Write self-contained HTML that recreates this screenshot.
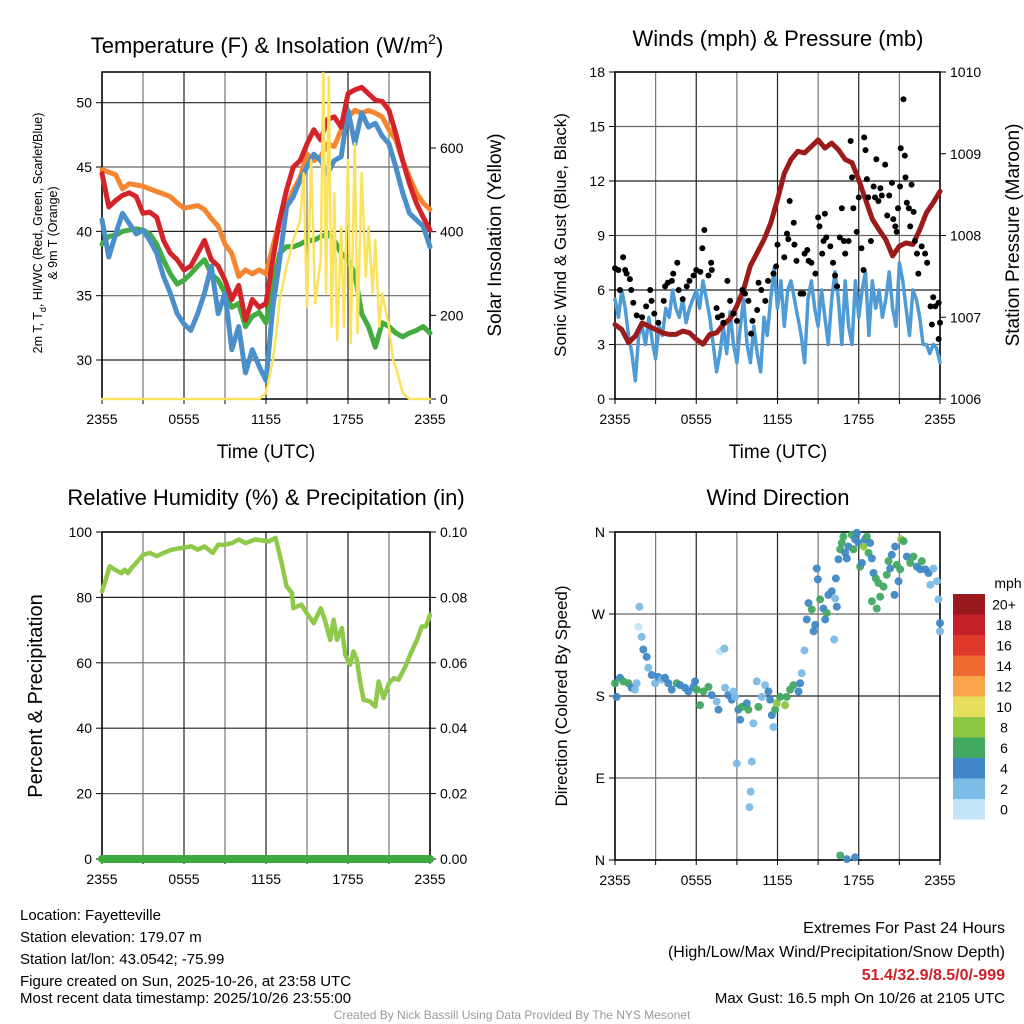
<!DOCTYPE html>
<html><head><meta charset="utf-8"><style>
html,body{margin:0;padding:0;background:#fff;}
svg{display:block;font-family:"Liberation Sans",Arial,sans-serif;}
</style></head><body>
<svg id="fig" width="1024" height="1024" viewBox="0 0 1024 1024" xmlns="http://www.w3.org/2000/svg">
<rect x="0" y="0" width="1024" height="1024" fill="#fff"/>
<text x="267" y="53" font-size="22" text-anchor="middle">Temperature (F) &amp; Insolation (W/m<tspan dy="-9" font-size="14">2</tspan><tspan dy="9">)</tspan></text>
<text x="778" y="46" font-size="22" text-anchor="middle">Winds (mph) &amp; Pressure (mb)</text>
<text x="266" y="505" font-size="22" text-anchor="middle">Relative Humidity (%) &amp; Precipitation (in)</text>
<text x="778" y="505" font-size="22" text-anchor="middle">Wind Direction</text>
<text x="266" y="458" font-size="19" text-anchor="middle">Time (UTC)</text>
<text x="778" y="458" font-size="19" text-anchor="middle">Time (UTC)</text>
<text transform="translate(42,233) rotate(-90)" font-size="12.5" text-anchor="middle">2m T, T<tspan dy="4" font-size="9">d</tspan><tspan dy="-4">, HI/WC (Red, Green, Scarlet/Blue)</tspan></text>
<text transform="translate(57,233) rotate(-90)" font-size="12.5" text-anchor="middle">&amp; 9m T (Orange)</text>
<text transform="translate(501,235) rotate(-90)" font-size="19" text-anchor="middle">Solar Insolation (Yellow)</text>
<text transform="translate(566,235) rotate(-90)" font-size="17" text-anchor="middle">Sonic Wind &amp; Gust (Blue, Black)</text>
<text transform="translate(1019,235) rotate(-90)" font-size="19" text-anchor="middle">Station Pressure (Maroon)</text>
<text transform="translate(42,696) rotate(-90)" font-size="20" text-anchor="middle">Percent &amp; Precipitation</text>
<text transform="translate(567,696) rotate(-90)" font-size="17" text-anchor="middle">Direction (Colored By Speed)</text>
<g font-size="15">
<text x="20" y="920">Location: Fayetteville</text>
<text x="20" y="942">Station elevation: 179.07 m</text>
<text x="20" y="964">Station lat/lon: 43.0542; -75.99</text>
<text x="20" y="986">Figure created on Sun, 2025-10-26, at 23:58 UTC</text>
<text x="20" y="1003">Most recent data timestamp: 2025/10/26 23:55:00</text>
</g>
<g font-size="16" text-anchor="end">
<text x="1005" y="933">Extremes For Past 24 Hours</text>
<text x="1005" y="957">(High/Low/Max Wind/Precipitation/Snow Depth)</text>
<text x="1005" y="980" font-weight="bold" fill="#cc1f27">51.4/32.9/8.5/0/-999</text>
<text x="1005" y="1003" font-size="15">Max Gust: 16.5 mph On 10/26 at 2105 UTC</text>
</g>
<text x="512" y="1019" font-size="12" fill="#999" text-anchor="middle">Created By Nick Bassill Using Data Provided By The NYS Mesonet</text>
<g id="plots"></g>
</svg>
<script>
// ---- data ----
const xTickHours = [0, 6, 12, 18, 24];
const xTickLabels = ["2355", "0555", "1155", "1755", "2355"];
const tempStartHour = 0;
const tempStepHours = 0.5;
const temp9m = [44.8,44.6,44.4,43.3,43.7,43.6,43.5,43.3,43.1,42.9,42.7,42.2,41.8,41.9,42,41.7,41,40.4,39,38.3,36.5,37,36.7,37,36.7,38.8,40.9,41.9,43.2,44.2,46,45.5,45.8,46.8,46.6,47.9,48.9,49.4,49.2,49.4,49.2,48.9,47.9,47.1,45.5,44.2,43,42.2,41.7];
const temp2m = [44.5,41.9,42.4,42.8,43,42.7,41.4,41.5,41.1,39.3,38.3,37.8,37,37.3,38.3,39.3,37.8,37.3,36.2,34.7,35.8,33.1,34.7,34.1,34.4,37.8,40.9,43.2,45,45.5,46.8,47.9,47.1,48.7,48.9,48.1,50.7,51,51.2,50.7,50.2,50.1,49.4,47.6,45.5,43.7,42.2,41.1,40.1];
const dewpoint = [39,39.6,39.7,40,40.1,40.2,40.1,39.8,39,37.8,36.7,35.9,36.2,36.7,37.3,37.8,36.7,36.2,35.2,34.1,34.4,32.6,33.4,33.7,32.9,35.7,38.3,38.8,38.8,39,39.3,39.3,39.6,39.8,39.3,38.3,37.8,36.7,33.6,32.6,31,32.9,32.6,32.1,31.8,32.1,32.3,32.6,32.1];
const windChill = [40.9,38,39.8,41.4,40.6,39.8,40.1,39.3,38.3,36.5,35.2,33.6,32.8,32.3,33.6,35.2,37.3,33.6,35.2,30.8,32.6,29,30.8,29.5,28.4,34.1,37.8,41.9,42.7,44,45,46,45.5,44.5,45.5,45.8,49.4,46.8,49.2,48.1,48.4,47.4,46.8,45,43,41.4,40.9,40.4,38.8];
const solarHours = [0,11.5,12,12.5,12.75,13,13.5,14,14.5,14.75,15,15.3,15.6,16,16.2,16.4,16.6,16.8,17,17.2,17.5,17.7,18,18.2,18.5,18.7,19,19.3,19.5,19.8,20,20.3,20.5,20.8,21,21.3,21.5,22,22.5,24];
const solarWm2 = [0,0,14,93,157,237,316,380,428,540,221,571,229,332,779,253,770,173,492,141,412,173,571,133,611,157,540,292,412,253,380,173,253,205,173,93,77,14,0,0];
const tempTicks = [30,35,40,45,50];
const solarTicks = [0,200,400,600];

const pressureStartHour = 0;
const pressureStepHours = 0.5;
const pressureMb = [1006.91,1006.85,1006.69,1006.77,1006.93,1006.89,1006.85,1006.81,1006.79,1006.79,1006.83,1006.81,1006.73,1006.67,1006.79,1006.81,1006.91,1006.98,1007.14,1007.34,1007.63,1007.79,1007.95,1008.15,1008.44,1008.76,1008.93,1009.03,1009.01,1009.09,1009.17,1009.07,1009.13,1009.05,1008.93,1008.89,1008.68,1008.44,1008.2,1008.07,1007.95,1007.75,1007.87,1007.91,1007.89,1008.07,1008.28,1008.4,1008.54];
const windStartHour = 0;
const windStepHours = 0.25;
const windMph = [5.5,4.5,6.0,5.0,3.5,2.5,1.0,3.5,4.0,3.0,4.5,3.2,2.2,4.0,3.5,5.0,4.5,6.0,5.0,4.5,5.5,4.2,5.0,5.5,6.0,5.0,6.5,5.5,4.5,3.0,1.5,2.5,4.0,2.5,4.8,3.0,2.0,4.0,5.5,3.0,2.0,4.0,2.5,1.5,4.5,3.5,5.5,7.2,5.0,6.5,4.0,6.0,6.5,5.5,4.5,3.5,2.0,5.5,6.5,5.0,4.0,6.0,4.5,3.0,5.5,7.0,5.5,3.0,6.5,4.0,3.0,6.5,4.5,6.0,7.0,3.5,6.5,5.0,6.0,4.5,5.5,7.0,5.0,4.0,7.5,6.5,5.0,3.5,6.0,5.5,4.5,3.0,3.0,2.5,3.0,2.8,2.0];
const gustHours = [0,0.25,0.6,0.75,0.86,1.1,0.37,1.2,1.35,1.6,2,2.3,2.6,2.7,2.9,3.2,3.6,3.7,3.9,4.2,4.3,4.6,4.7,5,5.3,5.5,5.8,6,6.3,6.45,6.6,6.9,7.1,7.15,7.5,7.6,7.9,8,8.3,8.5,8.75,9,9.4,9.6,9.85,10.05,10.15,10.5,10.6,10.8,11.1,11.3,11.7,11.9,12,12.5,12.7,12.8,12.9,13.2,13.25,13.4,13.7,13.9,14,14.2,14.3,14.5,14.8,15,15.1,15.3,15.4,15.5,15.6,15.9,16.1,16.25,16.4,16.6,16.75,16.9,17,17.25,17.4,17.5,17.6,17.85,18,18.2,18.35,18.4,18.5,18.6,18.7,18.9,19.1,19.2,19.3,19.45,19.6,19.7,19.95,20.1,20.25,20.45,20.55,20.7,20.8,20.9,21.05,21.1,21.3,21.4,21.45,21.55,21.7,21.8,21.9,22.05,22.15,22.3,22.4,22.65,22.9,23.05,23.3,23.5,23.65,23.9,24,23.9,23.4];
const gustMph = [7.2,7.1,7.8,7.1,6.9,6.6,6.0,6.0,5.3,4.6,4.5,5.1,6.0,5.4,4.7,4.2,5.4,6.2,6.4,6.5,6.9,7.5,6.0,5.5,6.2,6.5,6.8,7.1,7.0,8.3,9.3,6.8,7.5,7.1,5.0,4.5,4.6,4.2,6.5,5.4,4.7,4.3,6.0,5.8,5.4,3.6,4.3,4.9,6.4,6.0,5.4,6.5,6.9,7.3,8.5,7.8,9.1,8.8,10.9,9.7,8.5,7.6,5.8,5.8,8.0,8.2,7.6,7.5,6.9,10.0,9.5,8.0,8.7,10.2,8.9,8.4,7.5,6.8,6.2,8.9,10.5,8.7,8.0,8.7,14.2,12.2,10.5,9.2,11.1,8.3,7.1,14.4,13.7,12.1,11.1,8.7,11.7,11.1,13.2,10.9,11.6,11.2,12.9,10.1,11.2,11.9,9.9,9.5,9.2,10.5,11.7,13.8,16.5,13.4,12.2,10.8,10.5,9.5,11.8,10.3,8.7,8.0,6.9,8.4,8.0,7.5,5.1,5.6,5.1,5.3,4.2,3.3,4.1];
const windTicks = [0,3,6,9,12,15,18];
const pressureTicks = [1006,1007,1008,1009,1010];

const rhHours = [0,0.2,0.56,0.93,1.42,1.66,1.9,2.15,2.5,3,3.5,4,4.5,5.1,5.8,6.55,7,7.5,8.1,8.5,9,9.5,10,10.5,11.2,12.2,12.7,13.15,13.5,13.9,14,14.6,14.9,15.5,16,16.3,16.7,16.95,17.2,17.55,17.8,18.16,18.4,18.65,18.9,19.14,19.6,20,20.24,20.6,21,21.35,21.7,22.2,22.6,23.05,23.4,23.7,24];
const rhPct = [81.8,84.4,89.5,88.5,87.4,88.5,87.4,89,90.5,93,93.6,92.6,93.6,94.6,95.1,95.6,94.6,95.6,93.6,96.1,96.1,96.6,97.7,96.6,97.7,97.1,98.2,90.5,83.4,81.3,76.7,77.8,75.7,72.1,76.7,73.2,67,73.2,67,70.6,62.4,59.4,63.5,60.9,53.8,48.7,48.2,46.6,54.3,49.2,53.8,55.3,54.8,58.9,63,67,71.1,71.1,74.7];
const precipHours = [0,24];
const precipIn = [0,0];
const rhTicks = [0,20,40,60,80,100];
const precipTickLabels = ["0.00","0.02","0.04","0.06","0.08","0.10"];

const dirHours = [0,0.12,0.37,0.62,0.99,1.23,1.48,1.6,1.8,1.72,1.97,2.09,2.34,2.46,2.71,2.96,3.2,3.45,3.69,3.94,4.19,4.56,4.8,5.17,5.42,5.79,5.91,6.03,6.28,6.53,6.9,7.14,7.51,7.64,7.76,8.08,8.13,8.37,8.62,8.74,8.87,8.99,9.11,9.24,9.36,9.73,9.85,10.1,10.22,10.02,9.93,10.47,10.59,10.84,11.08,11.33,11.45,11.58,11.7,11.82,11.95,12.19,12.56,12.68,12.93,13.18,13.55,13.67,13.79,13.99,14.16,14.29,14.53,14.66,14.78,14.9,14.98,15.15,15.39,15.52,15.64,15.76,16.01,16.26,16.38,16.18,16.31,16.5,16.63,16.75,16.87,17,17.12,17.24,17.49,17.61,17.73,17.86,17.98,18.1,18.23,18.35,18.47,18.6,18.72,18.84,18.97,19.09,19.26,19.46,18.97,19.33,19.58,19.83,20.07,20.2,20.32,20.44,20.69,20.81,20.94,21.06,20.64,21.13,21.31,21.55,21.8,22.04,22.29,22.54,22.66,22.91,23.15,23.28,23.52,23.77,23.89,24,24,16.63,17.12,17.73];
const dirDeg = [194,179,200,196,194,189,187,194,278,256,245,231,223,211,203,194,201,198,200,194,187,194,192,189,185,190,196,187,170,185,190,181,174,165,229,232,189,181,176,185,179,106,165,154,168,172,165,108,150,75,58,196,168,179,192,185,176,159,146,165,172,179,170,179,187,192,185,194,205,230,264,282,275,251,258,320,308,286,276,264,271,291,295,287,278,242,309,330,341,348,355,337,331,344,357,341,352,359,348,322,326,344,352,355,337,348,331,315,309,304,284,276,289,300,313,328,320,335,344,324,306,319,291,352,350,333,326,333,322,319,328,319,315,302,320,306,286,260,251,5,1,3];
const dirSpeedMph = [6,4,4,6,6,4,2,2,2,0,2,4,4,2,4,2,4,2,4,4,4,6,4,4,4,4,4,6,6,6,6,4,2,4,0,2,2,4,4,2,2,2,4,4,6,4,6,2,2,2,2,2,6,2,2,4,4,4,2,6,8,6,8,6,6,6,4,4,2,2,4,4,6,4,4,4,4,6,4,4,6,4,4,2,4,2,4,4,6,6,6,4,4,4,6,6,4,4,4,6,4,8,4,6,6,4,4,4,6,6,6,6,6,6,6,6,4,4,4,6,4,6,4,8,6,4,6,6,4,4,6,4,4,2,2,2,2,4,2,6,4,4];
const dirTicks = [0,90,180,270,360];
const dirTickLabels = ["N","E","S","W","N"];
const speedBins = ["20+","18","16","14","12","10","8","6","4","2","0"];
const speedColors = ["#99191c","#c3202a","#e0392b","#ef6a31","#f8a448","#e6df5d","#8dc641","#43a862","#3f87c6","#7cbbe6","#bfe5f7"];

// ---- helpers ----
const NS = "http://www.w3.org/2000/svg";
const root = document.getElementById("plots");
function mk(tag, attrs, parent) {
  const el = document.createElementNS(NS, tag);
  for (const k in attrs) el.setAttribute(k, attrs[k]);
  (parent || root).appendChild(el);
  return el;
}
function scale(d0, d1, r0, r1) { return v => r0 + (v - d0) / (d1 - d0) * (r1 - r0); }
function seriesHours(start, step, n) { const a = []; for (let i = 0; i < n; i++) a.push(start + i * step); return a; }
function pathD(xs, ys, fx, fy) { return xs.map((t, i) => (i ? "L" : "M") + fx(t).toFixed(1) + "," + fy(ys[i]).toFixed(1)).join(""); }

function frame(b, name, yScale, yTicks, yLabels, rScale, rTicks, rLabels) {
  const g = mk("g", {});
  
  
  const fx = scale(0, 24, b.x0, b.x1);
  for (let h = 0; h <= 24; h += 3) {
    const x = fx(h);
    const gl = mk("line", {x1: x, x2: x, y1: b.y0, y2: b.y1, stroke: (h % 6 === 0) ? "#222" : "#777", "stroke-width": 1.2}, g);
    
    
    const tk = mk("line", {x1: x, x2: x, y1: b.y1, y2: b.y1 + 5, stroke: "#000", "stroke-width": 1}, g);
    
    
  }
  xTickHours.forEach((h, i) => {
    const t = mk("text", {x: fx(h), y: b.y1 + 25, "font-size": 14, "text-anchor": "middle"}, g);
    t.textContent = xTickLabels[i];
    
    
  });
  yTicks.forEach((v, i) => {
    const y = yScale(v);
    const gl = mk("line", {x1: b.x0, x2: b.x1, y1: y, y2: y, stroke: (i % 2) ? "#666" : "#222", "stroke-width": 1.2}, g);
    
    
    const tk = mk("line", {x1: b.x0 - 6, x2: b.x0, y1: y, y2: y, stroke: "#000"}, g);
    
    
    const t = mk("text", {x: b.x0 - 10, y: y + 5, "font-size": 14, "text-anchor": "end"}, g);
    t.textContent = yLabels[i];
    
    
  });
  if (rScale) {
    rTicks.forEach((v, i) => {
      const y = rScale(v);
      const tk = mk("line", {x1: b.x1, x2: b.x1 + 6, y1: y, y2: y, stroke: "#000"}, g);
      
      
      const t = mk("text", {x: b.x1 + 10, y: y + 5, "font-size": 14}, g);
      t.textContent = rLabels[i];
      
      
    });
  }
  const bx = mk("rect", {x: b.x0, y: b.y0, width: b.x1 - b.x0, height: b.y1 - b.y0, fill: "none", stroke: "#000", "stroke-width": 1.5}, g);
  
  
  return fx;
}
function line(xs, ys, fx, fy, color, w, name) {
  const p = mk("path", {d: pathD(xs, ys, fx, fy), fill: "none", stroke: color, "stroke-width": w, "stroke-linejoin": "round", "stroke-linecap": "round"});
  
  
  return p;
}

// ---- panel 1: temperature ----
const b1 = {x0: 102, x1: 430, y0: 72, y1: 399};
const fy1 = scale(30, 50, 360, 102.7);
const fr1 = scale(0, 600, 399, 148);
const fx1 = frame(b1, "temp", fy1, tempTicks, tempTicks.map(String), fr1, solarTicks, solarTicks.map(String));
const tHrs = seriesHours(tempStartHour, tempStepHours, temp2m.length);
line(tHrs, temp9m, fx1, fy1, "#f5862f", 5, "temp-9m-line");
line(tHrs, dewpoint, fx1, fy1, "#42ac40", 5, "dewpoint-line");
line(tHrs, windChill, fx1, fy1, "#4a8fc9", 5, "heat-index-windchill-line");
line(tHrs, temp2m, fx1, fy1, "#d4242a", 5, "temp-2m-line");
line(solarHours, solarWm2, fx1, fr1, "#fbe25c", 2.5, "solar-insolation-line");

// ---- panel 2: winds ----
const b2 = {x0: 615, x1: 940, y0: 72, y1: 399};
const fy2 = scale(0, 18, 399, 72);
const fr2 = scale(1006, 1010, 399, 72);
const fx2 = frame(b2, "wind", fy2, windTicks, windTicks.map(String), fr2, pressureTicks, pressureTicks.map(String));
line(seriesHours(windStartHour, windStepHours, windMph.length), windMph, fx2, fy2, "#4f9bd6", 3.5, "sonic-wind-line");
line(seriesHours(pressureStartHour, pressureStepHours, pressureMb.length), pressureMb, fx2, fr2, "#9b1a1a", 5, "station-pressure-line");
gustHours.forEach((h, i) => {
  const c = mk("circle", {cx: fx2(h), cy: fy2(gustMph[i]), r: 3, fill: "#000"});
  
  
});

// ---- panel 3: RH ----
const b3 = {x0: 102, x1: 430, y0: 532, y1: 859};
const fy3 = scale(0, 100, 859, 532);
const fx3 = frame(b3, "rh", fy3, rhTicks, rhTicks.map(String), fy3, rhTicks, precipTickLabels);
line(rhHours, rhPct, fx3, fy3, "#8fc94a", 4.5, "relative-humidity-line");
const fp3 = scale(0, 0.1, 859, 532);
line(precipHours, precipIn, fx3, fp3, "#3daa3d", 8, "precipitation-line");

// ---- panel 4: wind direction ----
const b4 = {x0: 615, x1: 940, y0: 532, y1: 860};
const fy4 = scale(0, 360, 860, 532);
const fx4 = frame(b4, "direction", fy4, dirTicks, dirTickLabels, null);
dirHours.forEach((h, i) => {
  const bin = Math.min(10, Math.max(0, 10 - Math.floor(dirSpeedMph[i] / 2)));
  const c = mk("circle", {cx: fx4(h), cy: fy4(dirDeg[i]), r: 4, fill: speedColors[bin], "fill-opacity": 0.95});
  
  
});

// ---- colorbar ----
const cb = mk("g", {});


const cbTop = 594, cbH = 20.5;
speedBins.forEach((lab, i) => {
  const r = mk("rect", {x: 953, y: cbTop + i * cbH, width: 32, height: cbH, fill: speedColors[i]}, cb);
  
  
  const t = mk("text", {x: 1004, y: cbTop + i * cbH + cbH / 2 + 5, "font-size": 14, "text-anchor": "middle"}, cb);
  t.textContent = lab;
  
  
});
const ut = mk("text", {x: 1008, y: 588, "font-size": 14, "text-anchor": "middle"}, cb);
ut.textContent = "mph";


</script>
</body></html>
